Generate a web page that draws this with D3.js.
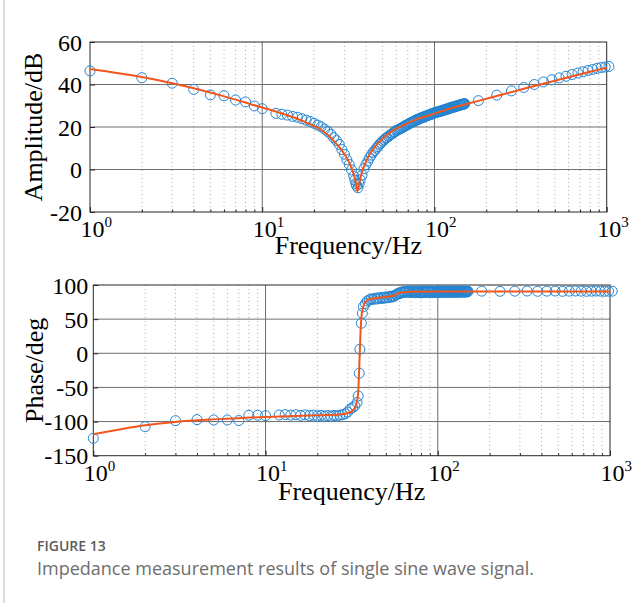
<!DOCTYPE html>
<html>
<head>
<meta charset="utf-8">
<script src="https://cdn.jsdelivr.net/npm/d3@7"></script>
<style>
  html, body { margin: 0; padding: 0; background: #fff; }
  svg { display: block; }
</style>
</head>
<body>
<svg id="fig" width="639" height="603"></svg>
<script>
// Measured frequency points (Hz)
const freqHz = [
  1, 2, 3, 4, 5, 6, 7, 8, 9, 10,
  12, 13, 14, 15, 16, 17, 18, 19, 20, 21, 22, 23, 24, 25, 26, 27, 28, 29, 30, 31, 32, 33,
  34, 34.5, 35, 35.3, 36, 36.5, 37,
  38, 39, 40, 41, 42, 43, 44, 45, 46, 47, 48, 49, 50, 51, 52, 53, 54, 55, 56, 57, 58, 59, 60,
  61, 62, 63, 64, 65, 66, 67, 68, 69, 70, 71, 72, 73, 74, 75, 76, 77, 78, 79, 80,
  81, 82, 83, 84, 85, 86, 87, 88, 89, 90, 91, 92, 93, 94, 95, 96, 97, 98, 99, 100,
  101, 102, 103, 104, 105, 106, 107, 108, 109, 110, 111, 112, 113, 114, 115, 116, 117, 118, 119, 120,
  121, 122, 123, 124, 125, 126, 127, 128, 129, 130, 131, 132, 133, 134, 135, 136, 137, 138, 139, 140,
  141, 142, 143, 144, 145, 146, 147, 148, 149, 150,
  180, 230, 280, 330, 380, 430, 480, 530, 580, 630, 680, 730, 780, 830, 880, 930, 980, 1030
];

// Measured impedance amplitude (dB)
const ampMeasDb = [
  46.4, 43.2, 40.6, 37.7, 35.1, 34.7, 32.7, 31.8, 29.9, 28.6,
  26.4, 26.0, 25.6, 25.0, 24.6, 23.9, 23.2, 22.6, 21.7, 20.9, 20.1, 19.0, 17.9, 16.6, 15.0, 13.6, 11.8, 9.4, 7.2, 4.6, 2.4, -0.2,
  -3.1, -5.0, -6.6, -7.6, -8.6, -6.8, -4.8,
  -2.6, 0.4, 2.3, 3.9, 5.5, 6.8, 8.1, 8.9, 10.0, 10.8, 11.9, 12.5, 13.4, 13.9, 14.7, 15.0, 15.7, 16.0, 16.6, 16.9, 17.6, 17.7, 18.4,
  18.5, 18.9, 19.1, 19.5, 19.6, 20.1, 20.2, 20.8, 20.8, 21.3, 21.4, 21.9, 21.9, 22.3, 22.4, 22.8, 22.8, 23.3, 23.3, 23.7,
  23.6, 24.0, 24.0, 24.4, 24.3, 24.7, 24.7, 25.0, 25.0, 25.3, 25.3, 25.6, 25.6, 25.9, 25.9, 26.2, 26.1, 26.5, 26.4, 26.7,
  26.7, 26.9, 26.9, 27.1, 27.1, 27.3, 27.2, 27.5, 27.4, 27.7, 27.6, 27.9, 27.8, 28.1, 28.0, 28.3, 28.2, 28.5, 28.4, 28.7,
  28.6, 28.9, 28.8, 29.1, 29.0, 29.3, 29.2, 29.4, 29.3, 29.6, 29.5, 29.7, 29.7, 29.9, 29.8, 30.0, 30.0, 30.2, 30.1, 30.3,
  30.3, 30.5, 30.4, 30.6, 30.6, 30.8, 30.7, 30.9, 30.8, 31.0,
  32.4, 35.0, 37.0, 38.6, 40.0, 41.2, 42.2, 43.1, 43.9, 44.7, 45.4, 46.0, 46.6, 47.1, 47.6, 48.0, 48.2, 48.5
];

// Measured impedance phase (deg)
const phaseMeasDeg = [
  -124.5, -107.5, -98.7, -97.2, -97.7, -97.7, -98.5, -90.8, -90.8, -91.3,
  -90.4, -89.8, -90.6, -90.0, -91.0, -90.2, -91.4, -90.6, -91.8, -90.8, -92.0, -91.2, -92.2, -91.0, -91.8, -90.6, -90.0, -88.6, -86.0, -81.5, -79.6, -77.0,
  -72.0, -62.5, -29.3, 5.9, 44.0, 58.6, 68.3,
  73.0, 76.5, 78.2, 79.5, 78.8, 80.6, 79.4, 81.2, 80.0, 81.8, 80.4, 82.3, 81.0, 82.8, 81.6, 83.4, 82.2, 84.0, 83.5, 85.6, 86.4, 88.0, 87.2,
  89.4, 88.6, 90.2, 89.0, 91.0, 89.6, 90.8, 89.2, 91.4, 88.8, 90.6, 89.8, 91.2, 88.6, 90.4, 89.4, 91.6, 89.0, 90.2, 88.4,
  90.8, 89.6, 91.0, 88.8, 90.4, 89.2, 91.4, 89.8, 90.6, 88.6, 90.0, 91.2, 89.4, 90.8, 88.8, 90.2, 91.0, 89.6, 90.4, 89.0,
  91.2, 89.8, 90.6, 89.2, 91.0, 90.0, 89.4, 90.8, 89.6, 91.4, 90.2, 89.0, 90.6, 91.0, 89.8, 90.4, 89.2, 91.2, 90.0, 89.6,
  90.8, 89.4, 91.0, 90.2, 89.8, 90.6, 89.0, 91.2, 90.4, 89.6, 90.8, 89.8, 91.0, 90.2, 89.4, 90.6, 90.0, 91.2, 89.8, 90.4,
  89.6, 90.8, 90.2, 89.6, 91.0, 90.0, 90.6, 89.8, 90.4, 90.8,
  91.0, 90.8, 91.0, 91.2, 90.8, 91.0, 91.2, 90.8, 91.0, 91.2, 91.0, 90.8, 91.0, 91.2, 91.0, 90.8, 91.0, 91.0
];

// Fitted model curve, amplitude
const ampFitHz = [1, 2, 3, 4, 5, 6, 7, 8, 9, 10, 12, 14, 16, 18, 20, 22, 24, 26, 28, 30, 32, 33, 34, 35, 35.7,
  36.5, 37.5, 38.5, 40, 42, 45, 50, 55, 60, 70, 80, 90, 100, 120, 150, 200, 300, 400, 500, 600, 700, 800, 900, 1000];
const ampFitDb = [47.3, 43.5, 40.6, 38.2, 36.2, 34.4, 32.9, 31.5, 30.2, 29.2, 27.3, 25.5, 23.9, 22.1, 20.5, 18.6, 16.3, 13.5, 10.6, 7.2, 3.2, 0.6, -2.4, -6.3, -10.2,
  -6.8, -2.8, 0.3, 3.6, 7.0, 10.6, 14.6, 17.3, 19.2, 21.8, 23.8, 25.2, 26.3, 28.4, 30.6, 33.3, 37.1, 39.8, 41.8, 43.4, 44.8, 46.0, 47.0, 47.9];

// Fitted model curve, phase
const phaseFitHz = [1, 1.5, 2, 3, 4, 5, 7, 10, 15, 20, 25, 28, 30, 31, 32, 33, 34, 34.5, 35, 35.3, 35.6, 36,
  36.6, 37.2, 38, 40, 44, 48, 52, 55, 58, 62, 70, 100, 1000];
const phaseFitDeg = [-118.7, -110.5, -105.5, -100.5, -98.2, -96.8, -95.0, -93.2, -91.8, -90.8, -90.0, -89.2, -87.5, -86.0, -84.0, -80.0, -70.0, -58.0, -20.0, 5.0, 30.0, 52.0,
  64.0, 71.0, 75.0, 79.0, 81.0, 82.0, 83.0, 84.2, 87.0, 89.0, 90.2, 90.6, 90.6];

// Axis ticks
const ampTicks = [-20, 0, 20, 40, 60];
const phaseTicks = [-150, -100, -50, 0, 50, 100];
const decadeTicks = [1, 10, 100, 1000];
const decadeExp = ['0', '1', '2', '3'];

const svg = d3.select('#fig');
const serif = '"Liberation Serif", "Times New Roman", serif';
const sans = '"Open Sans", "Noto Sans", sans-serif';
const markerColor = '#2384d2';
const fitColor = '#f2561d';

// thin rule along the left edge of the figure box
svg.append('line')
  .attr('x1', 4).attr('x2', 4).attr('y1', 0).attr('y2', 603)
  .attr('stroke', '#cfcfcf').attr('stroke-width', 1.5);

function drawPanel(p) {
  const x = d3.scaleLog().domain([1, 1000]).range([p.left, p.right]);
  const y = d3.scaleLinear()
    .domain([p.ticks[0], p.ticks[p.ticks.length - 1]])
    .range([p.bottom, p.top]);
  const g = svg.append('g');

  // minor (dotted) vertical grid
  const minor = x.ticks().filter(v => !decadeTicks.includes(v));
  g.append('g').selectAll('line').data(minor).join('line')
    .attr('x1', d => x(d)).attr('x2', d => x(d))
    .attr('y1', p.top).attr('y2', p.bottom)
    .attr('stroke', '#9a9a9a').attr('stroke-width', 0.8)
    .attr('stroke-dasharray', '1,3');

  // major grid
  g.append('g').selectAll('line').data(decadeTicks.slice(1, -1)).join('line')
    .attr('x1', d => x(d)).attr('x2', d => x(d))
    .attr('y1', p.top).attr('y2', p.bottom)
    .attr('stroke', '#6e6e6e').attr('stroke-width', 1);
  g.append('g').selectAll('line').data(p.ticks.slice(1, -1)).join('line')
    .attr('x1', p.left).attr('x2', p.right)
    .attr('y1', d => y(d)).attr('y2', d => y(d))
    .attr('stroke', '#6e6e6e').attr('stroke-width', 1);

  // y axis
  const yAxis = g.append('g').attr('transform', `translate(${p.left},0)`)
    .call(d3.axisLeft(y).tickValues(p.ticks).tickSizeInner(-5).tickSizeOuter(0)
      .tickPadding(p.ypad).tickFormat(d => String(d)));
  yAxis.select('.domain').remove();
  yAxis.selectAll('.tick line').attr('stroke', '#262626');
  yAxis.selectAll('.tick text')
    .attr('font-family', serif).attr('font-size', 24).attr('fill', '#000')
    .attr('dy', '0.34em');

  // x axis: decade ticks with power-of-ten labels, minor ticks
  const xAxis = g.append('g').attr('transform', `translate(0,${p.bottom})`)
    .call(d3.axisBottom(x).tickValues(decadeTicks).tickSizeInner(-5).tickSizeOuter(0).tickFormat(''));
  xAxis.select('.domain').remove();
  xAxis.selectAll('.tick line').attr('stroke', '#262626');
  xAxis.selectAll('.tick text').remove();
  const xMinor = g.append('g').attr('transform', `translate(0,${p.bottom})`)
    .call(d3.axisBottom(x).tickValues(minor).tickSizeInner(-2.5).tickSizeOuter(0).tickFormat(''));
  xMinor.select('.domain').remove();
  xMinor.selectAll('.tick line').attr('stroke', '#262626');
  xMinor.selectAll('.tick text').remove();

  const lbl = g.append('g').selectAll('text').data(decadeTicks).join('text')
    .attr('x', d => x(d) - 9.5).attr('y', p.xTickBase)
    .attr('font-family', serif).attr('font-size', 24).attr('fill', '#000');
  lbl.append('tspan').text('10');
  lbl.append('tspan').attr('dy', -10).attr('font-size', 15)
    .text((d, i) => decadeExp[i]);

  // frame
  g.append('rect')
    .attr('x', p.left).attr('y', p.top)
    .attr('width', p.right - p.left).attr('height', p.bottom - p.top)
    .attr('fill', 'none').attr('stroke', '#262626').attr('stroke-width', 1);

  // measured points
  g.append('g').selectAll('circle').data(d3.zip(freqHz, p.meas)).join('circle')
    .attr('cx', d => x(d[0])).attr('cy', d => y(d[1])).attr('r', 5)
    .attr('fill', 'none').attr('stroke', markerColor).attr('stroke-width', 1);

  // fitted curve
  const line = d3.line().x(d => x(d[0])).y(d => y(d[1])).curve(d3.curveMonotoneX);
  g.append('path').datum(d3.zip(p.fitX, p.fitY))
    .attr('d', line).attr('fill', 'none')
    .attr('stroke', fitColor).attr('stroke-width', 2).attr('stroke-linejoin', 'round');

  // axis titles
  g.append('text')
    .attr('transform', `translate(${p.ylabelX},${(p.top + p.bottom) / 2}) rotate(-90)`)
    .attr('text-anchor', 'middle')
    .attr('font-family', serif).attr('font-size', 26).attr('fill', '#000')
    .text(p.ylabel);
  g.append('text')
    .attr('x', (p.left + p.right) / 2).attr('y', p.xlabelY)
    .attr('text-anchor', 'middle')
    .attr('font-family', serif).attr('font-size', 26).attr('fill', '#000')
    .text('Frequency/Hz');
}

drawPanel({
  left: 90, right: 606.7, top: 42, bottom: 212,
  ticks: ampTicks, ypad: 8, xTickBase: 236.5, xlabelY: 254,
  meas: ampMeasDb, fitX: ampFitHz, fitY: ampFitDb,
  ylabel: 'Amplitude/dB', ylabelX: 42
});

drawPanel({
  left: 93.3, right: 610, top: 285, bottom: 455.7,
  ticks: phaseTicks, ypad: 5, xTickBase: 481, xlabelY: 500,
  meas: phaseMeasDeg, fitX: phaseFitHz, fitY: phaseFitDeg,
  ylabel: 'Phase/deg', ylabelX: 43
});

// caption
svg.append('text')
  .attr('x', 37).attr('y', 551)
  .attr('font-family', sans)
  .attr('font-size', 14).attr('font-weight', 600).attr('fill', '#5b5b5b')
  .text('FIGURE 13');
svg.append('text')
  .attr('x', 37).attr('y', 574.5)
  .attr('font-family', sans)
  .attr('font-size', 18).attr('fill', '#6e6e6e')
  .text('Impedance measurement results of single sine wave signal.');
</script>
</body>
</html>
